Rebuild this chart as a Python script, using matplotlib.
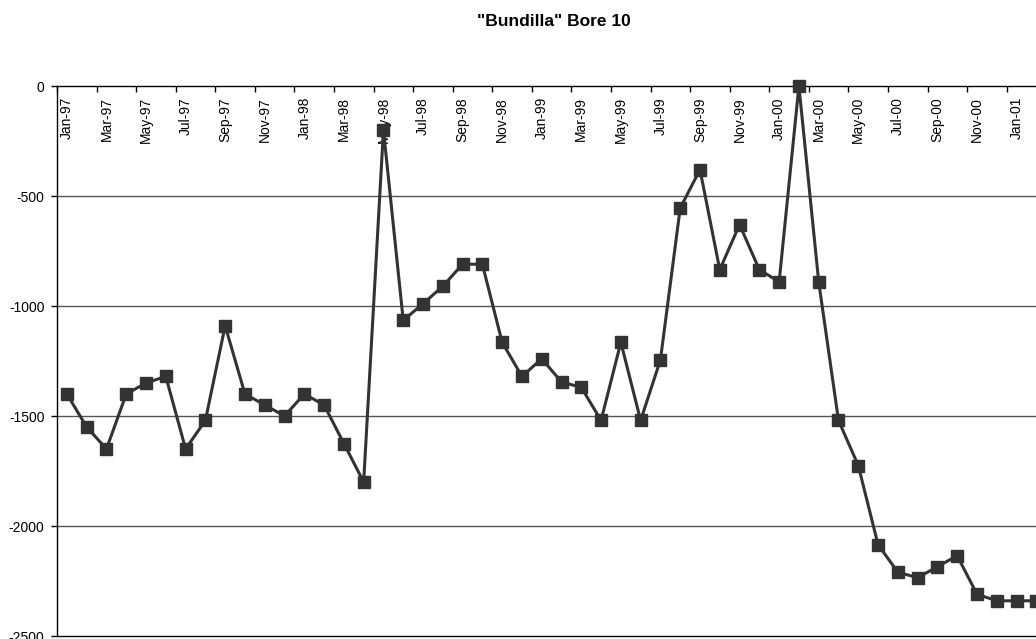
import numpy as np
import matplotlib.pyplot as plt

plt.rcParams['font.family'] = ['Liberation Sans', 'DejaVu Sans']

# Monthly readings, Jan-97 to Feb-01
months = ['Jan-97', 'Feb-97', 'Mar-97', 'Apr-97', 'May-97', 'Jun-97', 'Jul-97', 'Aug-97',
          'Sep-97', 'Oct-97', 'Nov-97', 'Dec-97', 'Jan-98', 'Feb-98', 'Mar-98', 'Apr-98',
          'May-98', 'Jun-98', 'Jul-98', 'Aug-98', 'Sep-98', 'Oct-98', 'Nov-98', 'Dec-98',
          'Jan-99', 'Feb-99', 'Mar-99', 'Apr-99', 'May-99', 'Jun-99', 'Jul-99', 'Aug-99',
          'Sep-99', 'Oct-99', 'Nov-99', 'Dec-99', 'Jan-00', 'Feb-00', 'Mar-00', 'Apr-00',
          'May-00', 'Jun-00', 'Jul-00', 'Aug-00', 'Sep-00', 'Oct-00', 'Nov-00', 'Dec-00',
          'Jan-01', 'Feb-01']
levels = [-1400, -1550, -1650, -1400, -1350, -1320, -1650, -1520,
          -1090, -1400, -1450, -1500, -1400, -1450, -1625, -1800,
          -200, -1065, -990, -910, -810, -810, -1165, -1320,
          -1240, -1345, -1370, -1520, -1165, -1520, -1245, -555,
          -380, -835, -630, -835, -890, 0, -890, -1520,
          -1725, -2085, -2210, -2235, -2185, -2135, -2310, -2340,
          -2340, -2340]
y_ticks = [0, -500, -1000, -1500, -2000, -2500]

x = np.arange(len(months))

fig = plt.figure(figsize=(10.36, 6.39), dpi=100)
# plot area runs past the right edge of the picture (cropped chart)
ax = fig.add_axes([57 / 1036, 3 / 639, 1009 / 1036, 550 / 639])

ax.plot(x, levels, color='#333333', lw=2.2, marker='s', markersize=8,
        markerfacecolor='#333333', markeredgecolor='#333333', zorder=5, clip_on=False)

ax.set_xlim(-0.5, 50.5)
ax.set_ylim(-2500, 0)

# horizontal gridlines
for v in y_ticks[1:-1]:
    ax.axhline(v, color='#555555', lw=1.0, zorder=1)

ax.set_yticks(y_ticks)
ax.set_yticklabels([str(v) for v in y_ticks])
ax.tick_params(axis='y', direction='out', length=4, width=1, pad=5, labelsize=10)

# category axis sits at the top (y = 0), ticks every two months
ax.xaxis.tick_top()
ax.set_xticks(np.arange(-0.5, 50.5, 2))
ax.set_xticklabels([])
ax.tick_params(axis='x', direction='in', length=4, width=1)
for i in range(0, len(months), 2):
    ax.annotate(months[i], xy=(i, 1), xycoords=('data', 'axes fraction'),
                xytext=(0, -8), textcoords='offset points', rotation=90,
                ha='center', va='top', fontsize=10)

ax.spines['right'].set_visible(False)
for s in ['top', 'bottom', 'left']:
    ax.spines[s].set_linewidth(1.0)
    ax.spines[s].set_color('black')

fig.text(554 / 1036, 1 - 22 / 639, '"Bundilla" Bore 10', ha='center', va='center',
         fontsize=12.5, fontweight='bold')

fig.savefig('out.png', dpi=100)
